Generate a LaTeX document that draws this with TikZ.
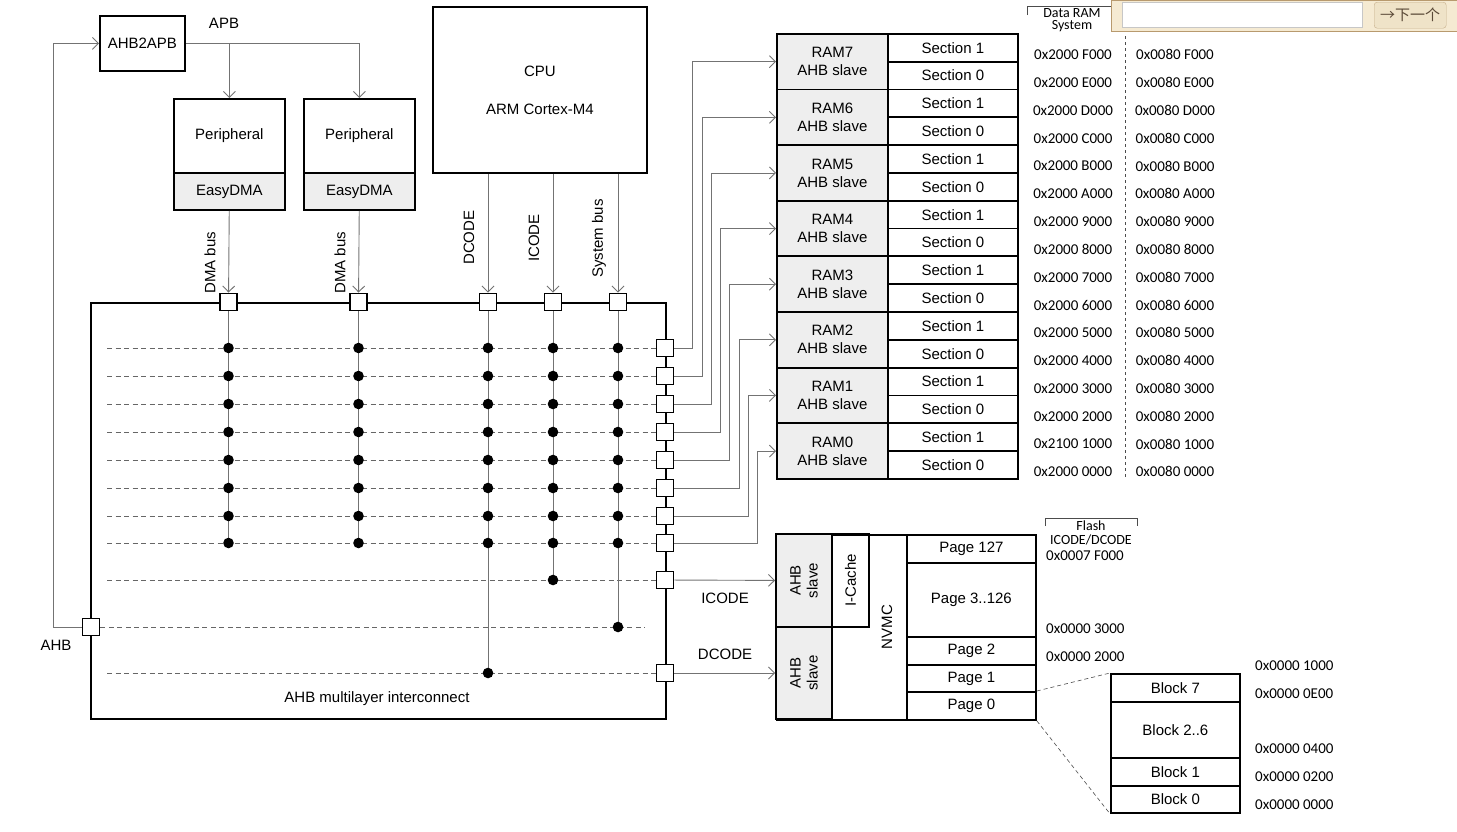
\documentclass[tikz,border=0pt]{standalone}
\usepackage{fontspec}
\setmainfont{Liberation Sans}
\newfontfamily\calib{Carlito}
\newfontfamily\cjk{Noto Sans CJK SC}
\usetikzlibrary{arrows.meta,calc}
\definecolor{slavegray}{gray}{0.935}
\definecolor{barfill}{HTML}{F5EAD2}
\definecolor{barline}{HTML}{B89A6E}
\definecolor{btnfill}{HTML}{EFE3C8}
\definecolor{btntext}{HTML}{5B4A38}

\begin{document}
\begin{tikzpicture}[x=1pt,y=-1pt,font=\fontsize{15}{17}\selectfont,
  box/.style={draw,line width=1.8pt,inner sep=0pt,anchor=north west,align=center},
  slave/.style={box,fill=slavegray},
  vbox/.style={anchor=center,rotate=90},
  port/.style={draw,line width=1.8pt,fill=white,minimum size=17pt,inner sep=0pt},
  bus/.style={black!55,line width=0.9pt},
  arr/.style={bus,-{Straight Barb[length=6pt,width=12pt]}},
  xbar/.style={black!60,line width=0.8pt,dash pattern=on 5pt off 3.5pt},
  zoomline/.style={black!70,line width=0.6pt,dash pattern=on 4pt off 3pt},
  addr/.style={font=\calib\fontsize{15}{16}\selectfont}]
  \useasboundingbox (0,0) rectangle (1457,831);

  \node[box,minimum width=85pt,minimum height=55pt] (apb) at (99,15) {AHB2APB};
  \node at (224,23) {APB};
  \foreach \i/\x in {1/173,2/303}{
    \node[box,minimum width=111pt,minimum height=74pt] (per\i) at (\x,98) {Peripheral};
    \node[slave,minimum width=111pt,minimum height=37pt] (dma\i) at (\x,172) {EasyDMA};
  }
  \node[box,minimum width=214pt,minimum height=166pt] (cpu) at (432,6) {CPU\\[21pt]ARM Cortex-M4};

  \node[box,minimum width=575pt,minimum height=416pt] (mli) at (90,302) {};
  \node at (377,699) {AHB multilayer interconnect};

  \foreach \c/\x in {1/228.5,2/358.5,3/488,4/553,5/618} \node[port] (t\c) at (\x,302) {};
  \foreach \n/\y in {7/348,6/376,5/404,4/432,3/460,2/488,1/516,0/543} \node[port] (r\n) at (665,\y) {};
  \node[port] (ri) at (665,580) {};
  \node[port] (rd) at (665,673) {};
  \node[port] (ahb) at (91,627) {};

  \foreach \n/\y in {7/348,6/376,5/404,4/432,3/460,2/488,1/516,0/543}{
    \coordinate (l\n) at (107,\y);
    \foreach \c/\x in {1/228.5,2/358.5,3/488,4/553,5/618} \coordinate (d\c\n) at (\x,\y);
  }
  \coordinate (li) at (107,580); \coordinate (ld) at (107,673); \coordinate (se) at (645,627);
  \coordinate (di) at (553,580); \coordinate (ds) at (618,627); \coordinate (dd) at (488,673);

  \foreach \n in {7,6,5,4,3,2,1,0} \draw[xbar] (l\n) -- (r\n);
  \draw[xbar] (li) -- (ri);
  \draw[xbar] (ahb) -- (se);
  \draw[xbar] (ld) -- (rd);
  \draw[bus] (t1) -- (d10) (t2) -- (d20) (t3) -- (dd) (t4) -- (di) (t5) -- (ds);
  \foreach \p in {10,11,12,13,14,15,16,17,20,21,22,23,24,25,26,27,30,31,32,33,34,35,36,37,
    40,41,42,43,44,45,46,47,50,51,52,53,54,55,56,57}\fill (d\p) circle (5.3pt);
  \foreach \p in {di,ds,dd}\fill (\p) circle (5.3pt);

  \draw[arr] (apb.east) -| (per1);
  \draw[arr] (apb.east) -| (per2);
  \draw[arr] (ahb) -- ++(-38,0) |- (apb);
  \draw[arr] (dma1) -- (t1);
  \draw[arr] (dma2) -- (t2);
  \foreach \c in {3,4,5} \draw[arr] (cpu.south -| t\c) -- (t\c);
  \foreach \x/\y/\t in {210/294/DMA bus,340/294/DMA bus,469/265/DCODE,534/262/ICODE,599/278/System bus}
    \node[rotate=90,anchor=west,inner sep=0pt] at (\x,\y) {\t};

  \foreach \n in {7,6,5,4,3,2,1,0}{
    \pgfmathsetmacro\ry{33+55.625*(7-\n)}
    \node[slave,minimum width=111pt,minimum height=55.6pt] (ram\n) at (776,\ry) {RAM\n\\[1pt]AHB slave};
    \node[box,minimum width=130pt,minimum height=27.8pt] (sa\n) at (887,\ry) {Section 1};
    \node[box,minimum width=130pt,minimum height=27.8pt] (sb\n) at (887,\ry+27.8) {Section 0};
  }
  \foreach \n/\dx in {7/18,6/28,5/37,4/46,3/55,2/65,1/74,0/83}
    \draw[arr] (r\n.east) -- ++(\dx,0) |- (ram\n.west);

  \foreach \u/\v [count=\k from 0] in {2000 F000/0080 F000,2000 E000/0080 E000,2000 D000/0080 D000,
    2000 C000/0080 C000,2000 B000/0080 B000,2000 A000/0080 A000,2000 9000/0080 9000,2000 8000/0080 8000,
    2000 7000/0080 7000,2000 6000/0080 6000,2000 5000/0080 5000,2000 4000/0080 4000,2000 3000/0080 3000,
    2000 2000/0080 2000,2100 1000/0080 1000,2000 0000/0080 0000}{
    \node[addr] (ad\k) at (1073,{27+27.8*(\k+1)}) {0x\u};
    \node[addr] (ac\k) at (1175,{27+27.8*(\k+1)}) {0x\v};
  }
  \draw[black!70,line width=0.6pt,dash pattern=on 3pt off 3pt] (1125,36) -- (1125,478);
  \draw[black!70,line width=0.6pt] (1027,15) |- (1112,6);
  \node[addr,align=center,font=\calib\fontsize{14}{12}\selectfont] (dram) at (1072,20) {Data RAM\\System};

  \node[box,minimum width=259pt,minimum height=185pt] (flash) at (776,534) {};
  \node[slave,vbox,minimum width=93pt,minimum height=56pt] (fs1) at (804,580.5) {AHB\\slave};
  \node[slave,vbox,minimum width=92pt,minimum height=56pt] (fs2) at (804,673) {AHB\\slave};
  \node[box,vbox,minimum width=93pt,minimum height=37pt] (icache) at (850.5,580.5) {I-Cache};
  \node[rotate=90] (nvmc) at (887,627) {NVMC};
  \foreach \n/\t/\y/\h in {p127/Page 127/534/28,p3/Page 3..126/562/74,p2/Page 2/636/28,p1/Page 1/664/27,p0/Page 0/691/28}
    \node[box,minimum width=129pt,minimum height=\h pt] (\n) at (906,\y) {\t};
  \foreach \n/\t/\y/\h in {b7/Block 7/673/28,b26/Block 2..6/701/56,b1/Block 1/757/28,b0/Block 0/785/27}
    \node[box,minimum width=129pt,minimum height=\h pt] (\n) at (1110,\y) {\t};
  \draw[zoomline] (p0.north east) -- (b7.north west);
  \draw[zoomline] (p0.south east) -- (b0.south west);

  \draw[arr] (ri) -- (fs1);
  \draw[arr] (rd) -- (fs2);
  \node at (725,598) {ICODE};
  \node at (725,654) {DCODE};
  \node at (56,645) {AHB};

  \draw[black!70,line width=0.6pt] (1045,526) |- (1137,518) -- (1137,526);
  \node[addr,inner sep=0pt,font=\calib\fontsize{14}{15}\selectfont] (fl) at (1091,526) {Flash};
  \node[addr,inner sep=0pt,font=\calib\fontsize{14}{15}\selectfont] (fic) at (1091,540) {ICODE/DCODE};
  \foreach \y/\t in {556/0x0007 F000,629/0x0000 3000,657/0x0000 2000}
    \node[addr,anchor=west,inner sep=0pt] at (1046,\y) {\t};
  \foreach \y/\t in {666/0x0000 1000,694/0x0000 0E00,749/0x0000 0400,777/0x0000 0200,805/0x0000 0000}
    \node[addr,anchor=west,inner sep=0pt] at (1255,\y) {\t};

  \node[fill=barfill,draw=barline,line width=1pt,minimum width=347pt,minimum height=31pt,anchor=north west] (findbar) at (1111,0) {};
  \node[fill=white,draw=black!22,line width=1pt,minimum width=240pt,minimum height=25pt,anchor=north west] (findbox) at (1122,2) {};
  \node[fill=btnfill,draw=barline!80,rounded corners=3pt,minimum width=72pt,minimum height=26pt,anchor=north west,
    text=btntext,font=\cjk\fontsize{15}{17}\selectfont] (findbtn) at (1374,2) {→下一个};
\end{tikzpicture}
\end{document}
